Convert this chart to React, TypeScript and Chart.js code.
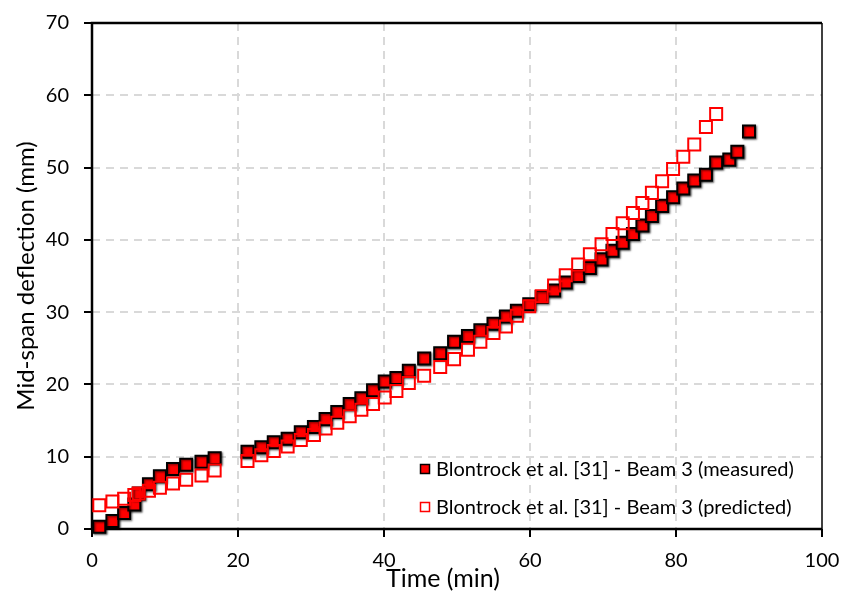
import { useEffect, useRef } from "react";
import { Chart, registerables } from "chart.js";

Chart.register(...registerables);

// Mid-span deflection of Beam 3 over fire exposure time
const measuredTime = [
  1.0, 2.8, 4.4, 5.8, 6.4, 7.8, 9.3, 11.1, 12.9, 15.0, 16.8,
  21.3, 23.2, 24.9, 26.8, 28.6, 30.4, 32.0, 33.6, 35.3, 36.9,
  38.5, 40.1, 41.7, 43.4, 45.5, 47.7, 49.6, 51.5, 53.2, 55.0,
  56.7, 58.2, 59.9, 61.6, 63.3, 64.9, 66.6, 68.2, 69.8, 71.3,
  72.7, 74.1, 75.4, 76.7, 78.1, 79.6, 81.0, 82.5, 84.1, 85.5,
  87.3, 88.4, 90.0,
];
const measuredDeflection = [
  0.3, 1.1, 2.2, 3.4, 4.9, 6.2, 7.3, 8.3, 8.9, 9.3, 9.8,
  10.7, 11.3, 12.0, 12.5, 13.4, 14.1, 15.2, 16.2, 17.3, 18.1,
  19.2, 20.4, 20.9, 21.9, 23.6, 24.3, 25.9, 26.7, 27.5, 28.4,
  29.4, 30.2, 31.1, 32.1, 33.0, 34.1, 35.0, 36.1, 37.3, 38.5,
  39.6, 40.8, 42.0, 43.3, 44.7, 45.9, 47.1, 48.2, 49.0, 50.7,
  51.1, 52.2, 55.0,
];

const predictedTime = [
  1.0, 2.8, 4.4, 5.8, 6.4, 7.8, 9.3, 11.1, 12.9, 15.0, 16.8,
  21.3, 23.2, 24.9, 26.8, 28.6, 30.4, 32.0, 33.6, 35.3, 36.9,
  38.5, 40.1, 41.7, 43.4, 45.5, 47.7, 49.6, 51.5, 53.2, 55.0,
  56.7, 58.2, 59.9, 61.6, 63.3, 64.9, 66.6, 68.2, 69.8, 71.3,
  72.7, 74.1, 75.4, 76.7, 78.1, 79.6, 81.0, 82.5, 84.1, 85.5,
];
const predictedDeflection = [
  3.3, 3.8, 4.2, 4.7, 4.9, 5.3, 5.7, 6.3, 6.8, 7.4, 8.1,
  9.4, 10.2, 10.8, 11.4, 12.3, 13.0, 13.9, 14.7, 15.6, 16.5,
  17.3, 18.2, 19.1, 20.2, 21.2, 22.4, 23.5, 24.8, 25.9, 27.1,
  28.0, 29.5, 30.8, 32.2, 33.7, 35.1, 36.6, 38.0, 39.4, 40.8,
  42.3, 43.7, 45.1, 46.5, 48.1, 49.8, 51.5, 53.2, 55.6, 57.4,
];

const seriesLabels = [
  "Blontrock et al. [31] - Beam 3 (measured)",
  "Blontrock et al. [31] - Beam 3 (predicted)",
];
const xTitle = "Time (min)";
const yTitle = "Mid-span deflection (mm)";

const xRange = { min: 0, max: 100, step: 20 };
const yRange = { min: 0, max: 70, step: 10 };

const FONT = "Lato, 'Open Sans', sans-serif";
const RED = "#ff0000";

// Plot frame: heavy top/left/bottom edges, lighter right edge
const framePlugin = {
  id: "plotFrame",
  beforeDatasetsDraw(chart: any) {
    const { ctx, chartArea: a } = chart;
    ctx.save();
    ctx.strokeStyle = "#000";
    ctx.lineWidth = 2.5;
    ctx.beginPath();
    ctx.moveTo(a.right, a.top);
    ctx.lineTo(a.left, a.top);
    ctx.lineTo(a.left, a.bottom);
    ctx.lineTo(a.right, a.bottom);
    ctx.stroke();
    ctx.lineWidth = 1.5;
    ctx.beginPath();
    ctx.moveTo(a.right, a.top);
    ctx.lineTo(a.right, a.bottom);
    ctx.stroke();
    ctx.restore();
  },
};

// Soft drop shadow under the measured markers
const shadowPlugin = {
  id: "markerShadow",
  beforeDatasetDraw(chart: any, args: any) {
    if (args.index !== 0) return;
    const ctx = chart.ctx;
    ctx.save();
    ctx.shadowColor = "rgba(0,0,0,0.5)";
    ctx.shadowBlur = 2;
    ctx.shadowOffsetX = 1.2;
    ctx.shadowOffsetY = 1.2;
  },
  afterDatasetDraw(chart: any, args: any) {
    if (args.index !== 0) return;
    chart.ctx.restore();
  },
};

// Legend inside the lower-right part of the plot, plus the x-axis caption
const insideLegendPlugin = {
  id: "insideLegend",
  afterDraw(chart: any) {
    const { ctx, chartArea: a } = chart;
    const rows = [a.bottom - 60, a.bottom - 22];
    const markerX = a.left + 333;
    const textX = a.left + 344;
    ctx.save();
    ctx.font = `20px ${FONT}`;
    ctx.textBaseline = "middle";
    ctx.textAlign = "left";
    chart.data.datasets.forEach((ds: any, i: number) => {
      const y = rows[i];
      const s = 9;
      ctx.lineWidth = 1.5;
      ctx.fillStyle = ds.pointBackgroundColor;
      ctx.strokeStyle = ds.pointBorderColor;
      ctx.beginPath();
      ctx.rect(markerX - s / 2, y - s / 2, s, s);
      ctx.fill();
      ctx.stroke();
      ctx.fillStyle = "#000";
      ctx.fillText(ds.label, textX, y + 1);
    });

    ctx.font = `25px ${FONT}`;
    ctx.textAlign = "center";
    ctx.textBaseline = "middle";
    ctx.fillText(xTitle, a.left + 351, a.bottom + 50);
    ctx.restore();
  },
};

export default function App() {
  const canvasRef = useRef<HTMLCanvasElement | null>(null);

  useEffect(() => {
    const canvas = canvasRef.current;
    if (!canvas) return;

    const measured = measuredTime.map((t, i) => ({ x: t, y: measuredDeflection[i] }));
    const predicted = predictedTime.map((t, i) => ({ x: t, y: predictedDeflection[i] }));

    const gridColor = (edgeMin: number, edgeMax: number) => (c: any) =>
      c.tick && (c.tick.value === edgeMin || c.tick.value === edgeMax)
        ? "rgba(0,0,0,0)"
        : "#d9d9d9";

    const chart = new Chart(canvas, {
      type: "scatter",
      data: {
        datasets: [
          {
            label: seriesLabels[0],
            data: measured,
            showLine: false,
            pointStyle: "rect",
            pointRadius: 8.5,
            pointHoverRadius: 8.5,
            pointBackgroundColor: RED,
            pointBorderColor: "#000",
            pointBorderWidth: 2,
            clip: false,
            order: 1,
          } as any,
          {
            label: seriesLabels[1],
            data: predicted,
            showLine: false,
            pointStyle: "rect",
            pointRadius: 8.5,
            pointHoverRadius: 8.5,
            pointBackgroundColor: "rgba(255,255,255,0)",
            pointBorderColor: RED,
            pointBorderWidth: 2,
            clip: false,
            order: 0,
          } as any,
        ],
      },
      options: {
        animation: false,
        responsive: false,
        maintainAspectRatio: false,
        layout: { padding: { top: 23, right: 22, left: 0, bottom: 0 } },
        plugins: {
          legend: { display: false },
          tooltip: { enabled: false },
        },
        scales: {
          x: {
            type: "linear",
            min: xRange.min,
            max: xRange.max,
            afterFit: (s: any) => {
              s.height = 64;
              s.paddingLeft = 0;
              s.paddingRight = 0;
            },
            ticks: {
              stepSize: xRange.step,
              color: "#000",
              font: { family: FONT, size: 20 },
              padding: 12,
              maxRotation: 0,
            },
            grid: {
              color: gridColor(xRange.min, xRange.max),
              lineWidth: 2,
              tickColor: "#000",
              tickWidth: 2,
              tickLength: 8,
            },
            border: { display: false, dash: [8, 6] },
            title: { display: false },
          },
          y: {
            type: "linear",
            min: yRange.min,
            max: yRange.max,
            afterFit: (s: any) => {
              s.width = 92;
              s.paddingTop = 0;
              s.paddingBottom = 0;
            },
            ticks: {
              stepSize: yRange.step,
              color: "#000",
              font: { family: FONT, size: 20 },
              padding: 15,
            },
            grid: {
              color: gridColor(yRange.min, yRange.max),
              lineWidth: 2,
              tickColor: "#000",
              tickWidth: 2,
              tickLength: 8,
            },
            border: { display: false, dash: [8, 6] },
            title: {
              display: true,
              text: yTitle,
              color: "#000",
              font: { family: FONT, size: 24 },
              padding: { top: 12, bottom: 0 },
            },
          },
        },
      },
      plugins: [framePlugin, shadowPlugin, insideLegendPlugin],
    });

    return () => chart.destroy();
  }, []);

  return (
    <div style={{ position: "absolute", left: 0, top: 0, width: 844, height: 593, background: "#fff" }}>
      <canvas ref={canvasRef} width={844} height={593} style={{ display: "block" }} />
    </div>
  );
}
